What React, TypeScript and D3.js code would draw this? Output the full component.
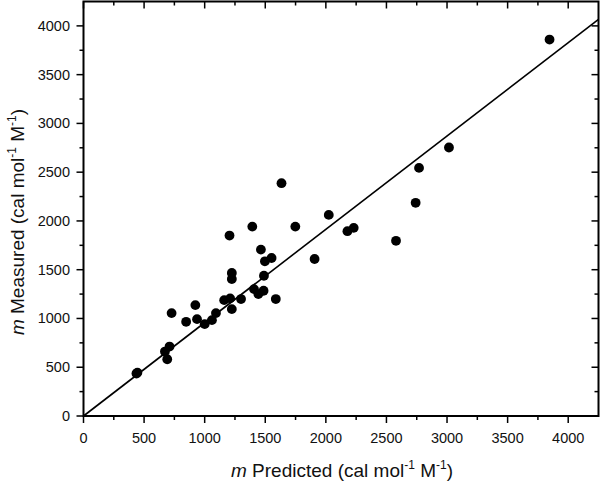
import React from "react";
import * as d3 from "d3";

const predicted = [437, 445, 672, 710, 691, 727, 847, 923, 937, 1000, 1060, 1093, 1161, 1210, 1224, 1224, 1224, 1205, 1300, 1393, 1407, 1443, 1486, 1464, 1497, 1552, 1489, 1587, 1634, 1748, 1907, 2024, 2178, 2230, 2579, 2741, 2769, 3016, 3846];
const measured = [435, 445, 661, 712, 582, 1055, 966, 1137, 993, 942, 983, 1055, 1188, 1206, 1096, 1466, 1404, 1850, 1199, 1942, 1301, 1250, 1284, 1706, 1586, 1620, 1438, 1199, 2387, 1942, 1610, 2062, 1895, 1929, 1796, 2186, 2544, 2753, 3860];
const fitSlope = 0.957;
const axisMax = 4250;
const majorTicks = [0, 500, 1000, 1500, 2000, 2500, 3000, 3500, 4000];
const minorTicks = [250, 750, 1250, 1750, 2250, 2750, 3250, 3750];

const W = 600, H = 483;
const L = 83.5, R = 598.5, T = 1.5, B = 416;

export default function App() {
  const x = d3.scaleLinear().domain([0, axisMax]).range([L, R]);
  const y = d3.scaleLinear().domain([0, axisMax]).range([B, T]);
  const line = d3.line<number>().x((d) => x(d)).y((d) => y(d * fitSlope));
  const font = "'Liberation Sans', Arial, sans-serif";
  return (
    <svg width={W} height={H} style={{ position: "absolute", left: 0, top: 0, background: "#fff" }}>
      <rect x={0} y={0} width={W} height={H} fill="#fff" />
      <path d={line([0, axisMax]) || ""} stroke="#000" strokeWidth={1.6} fill="none" />
      {predicted.map((p, i) => (
        <circle key={i} cx={x(p)} cy={y(measured[i])} r={4.9} fill="#000" />
      ))}
      <rect x={L} y={T} width={R - L} height={B - T} fill="none" stroke="#000" strokeWidth={2} />
      {majorTicks.map((t) => (
        <g key={"xm" + t}>
          <line x1={x(t)} x2={x(t)} y1={B} y2={B + 7} stroke="#000" strokeWidth={1.5} />
          <line x1={x(t)} x2={x(t)} y1={T} y2={T + 7} stroke="#000" strokeWidth={1.5} />
          <text x={x(t)} y={443} textAnchor="middle" fontFamily={font} fontSize={14.5} fill="#111">{t}</text>
        </g>
      ))}
      {minorTicks.map((t) => (
        <g key={"xn" + t}>
          <line x1={x(t)} x2={x(t)} y1={B} y2={B + 4} stroke="#000" strokeWidth={1.5} />
          <line x1={x(t)} x2={x(t)} y1={T} y2={T + 4} stroke="#000" strokeWidth={1.5} />
        </g>
      ))}
      {majorTicks.map((t) => (
        <g key={"ym" + t}>
          <line x1={L - 7} x2={L} y1={y(t)} y2={y(t)} stroke="#000" strokeWidth={1.5} />
          <line x1={R - 7} x2={R} y1={y(t)} y2={y(t)} stroke="#000" strokeWidth={1.5} />
          <text x={70} y={y(t) + 5} textAnchor="end" fontFamily={font} fontSize={14.5} fill="#111">{t}</text>
        </g>
      ))}
      {minorTicks.map((t) => (
        <g key={"yn" + t}>
          <line x1={L - 4} x2={L} y1={y(t)} y2={y(t)} stroke="#000" strokeWidth={1.5} />
          <line x1={R - 4} x2={R} y1={y(t)} y2={y(t)} stroke="#000" strokeWidth={1.5} />
        </g>
      ))}
      <text x={342} y={477} textAnchor="middle" fontFamily={font} fontSize={19} fill="#111">
        <tspan fontStyle="italic">m</tspan> Predicted (cal mol<tspan fontSize={12} dy={-8}>-1</tspan><tspan dy={8}> M</tspan><tspan fontSize={12} dy={-8}>-1</tspan><tspan dy={8}>)</tspan>
      </text>
      <text transform={`translate(24, 222) rotate(-90)`} textAnchor="middle" fontFamily={font} fontSize={19} fill="#111">
        <tspan fontStyle="italic">m</tspan> Measured (cal mol<tspan fontSize={12} dy={-8}>-1</tspan><tspan dy={8}> M</tspan><tspan fontSize={12} dy={-8}>-1</tspan><tspan dy={8}>)</tspan>
      </text>
    </svg>
  );
}
